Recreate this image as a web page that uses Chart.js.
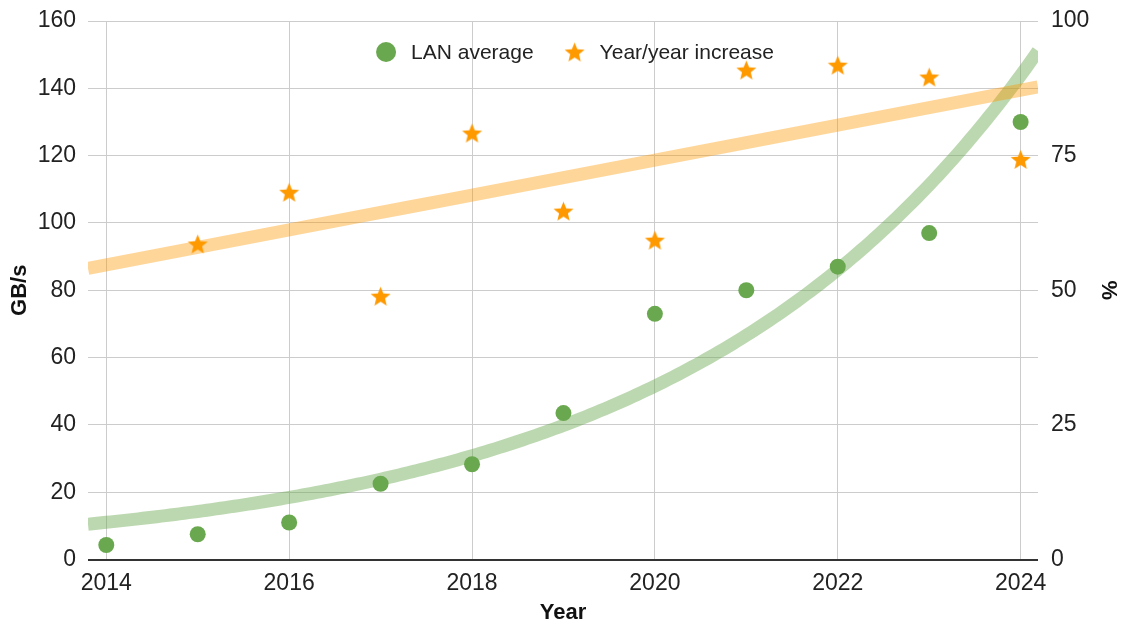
<!DOCTYPE html>
<html>
<head>
<meta charset="utf-8">
<title>LAN average throughput</title>
<script src="https://cdn.jsdelivr.net/npm/chart.js@4/dist/chart.umd.min.js"></script>
<style>
  html, body { margin: 0; padding: 0; background: #ffffff; }
  #wrap { width: 1124px; height: 624px; position: relative; }
</style>
</head>
<body>
<div id="wrap"><canvas id="chart"></canvas></div>
<script>
// ---- data ----
const years = [2014, 2015, 2016, 2017, 2018, 2019, 2020, 2021, 2022, 2023, 2024];
const lanAverage = [4.3, 7.5, 11, 22.5, 28.3, 43.5, 73, 80, 87, 97, 130];          // GB/s
const yearIncrease = [null, 58.6, 68.2, 48.9, 79.2, 64.7, 59.3, 90.9, 91.8, 89.6, 74.3]; // %
const xTickYears = [2014, 2016, 2018, 2020, 2022, 2024];
const leftTicks = [0, 20, 40, 60, 80, 100, 120, 140, 160];
const rightTicks = [0, 25, 50, 75, 100];
const lanLabel = 'LAN average';
const increaseLabel = 'Year/year increase';
const xTitle = 'Year';
const leftTitle = 'GB/s';
const rightTitle = '%';

// ---- style ----
const FONT = "'Liberation Sans', Arial, Helvetica, sans-serif";
const GREEN = '#6aa84f';
const ORANGE = '#ff9900';
const GREEN_TREND = 'rgba(106,168,79,0.45)';
const ORANGE_TREND = 'rgba(255,153,0,0.40)';
const X_MIN = 2013.8, X_MAX = 2024.19;

// ---- trendlines fitted from the series ----
function toPoints(xs, ys) {
  return xs.map((x, i) => ({ x: x, y: ys[i] })).filter(p => p.y !== null);
}
// ordinary least squares line
function linearFit(pts) {
  const n = pts.length;
  const mx = pts.reduce((s, p) => s + p.x, 0) / n;
  const my = pts.reduce((s, p) => s + p.y, 0) / n;
  let sxy = 0, sxx = 0;
  pts.forEach(p => { sxy += (p.x - mx) * (p.y - my); sxx += (p.x - mx) * (p.x - mx); });
  const b = sxy / sxx;
  return x => my + b * (x - mx);
}
// exponential y = a*e^(b x), log-linear regression weighted by y
function expFit(pts) {
  let sw = 0, sx = 0, sl = 0;
  pts.forEach(p => { sw += p.y; sx += p.y * p.x; sl += p.y * Math.log(p.y); });
  const mx = sx / sw, ml = sl / sw;
  let sxy = 0, sxx = 0;
  pts.forEach(p => {
    sxy += p.y * (p.x - mx) * (Math.log(p.y) - ml);
    sxx += p.y * (p.x - mx) * (p.x - mx);
  });
  const b = sxy / sxx;
  const lnA = ml - b * mx;
  return x => Math.exp(lnA + b * x);
}
function sampleCurve(fn, step) {
  const out = [];
  for (let x = X_MIN; x <= X_MAX + 1e-9; x += step) out.push({ x: x, y: fn(x) });
  out.push({ x: X_MAX, y: fn(X_MAX) });
  return out;
}

const lanPoints = toPoints(years, lanAverage);
const incPoints = toPoints(years, yearIncrease);
const lanTrendFn = expFit(lanPoints);
const incTrendFn = linearFit(incPoints);

// ---- five-pointed star marker ----
function makeStar(r, color) {
  const size = Math.ceil(r * 2 + 2);
  const c = document.createElement('canvas');
  c.width = size; c.height = size;
  const g = c.getContext('2d');
  const cx = size / 2, cy = size / 2 + r * 0.09;
  g.fillStyle = color;
  g.beginPath();
  for (let i = 0; i < 10; i++) {
    const rad = i % 2 ? r * 0.44 : r;
    const a = -Math.PI / 2 + i * Math.PI / 5;
    g.lineTo(cx + rad * Math.cos(a), cy + rad * Math.sin(a));
  }
  g.closePath();
  g.fill();
  return c;
}
const starImg = makeStar(10.5, ORANGE);

// ---- legend drawn inside the plot area ----
const insideLegend = {
  id: 'insideLegend',
  afterDraw(chart) {
    const ctx = chart.ctx;
    const area = chart.chartArea;
    ctx.save();
    ctx.font = '21px ' + FONT;
    ctx.textBaseline = 'middle';
    ctx.fillStyle = '#222222';
    const w1 = ctx.measureText(lanLabel).width;
    const w2 = ctx.measureText(increaseLabel).width;
    const sym = 20, gap = 15, itemGap = 31;
    const total = sym + gap + w1 + itemGap + sym + gap + w2;
    let x = (area.left + area.right) / 2 + 12 - total / 2;
    const y = 52;
    ctx.fillStyle = GREEN;
    ctx.beginPath();
    ctx.arc(x + sym / 2, y, 10, 0, Math.PI * 2);
    ctx.fill();
    x += sym + gap;
    ctx.fillStyle = '#222222';
    ctx.fillText(lanLabel, x, y + 1);
    x += w1 + itemGap;
    ctx.drawImage(starImg, x + sym / 2 - starImg.width / 2, y - starImg.height / 2);
    x += sym + gap;
    ctx.fillStyle = '#222222';
    ctx.fillText(increaseLabel, x, y + 1);
    ctx.restore();
  }
};

const tickFont = { family: FONT, size: 23 };
const titleFont = { family: FONT, size: 22, weight: 'bold', lineHeight: 1 };

// fixed axis boxes so the plot area lands where intended
function fixVertical(width) {
  return s => { s.width = width; s.paddingTop = 0; s.paddingBottom = 0; };
}

new Chart(document.getElementById('chart'), {
  type: 'scatter',
  data: {
    datasets: [
      {
        label: lanLabel,
        data: lanPoints,
        yAxisID: 'y',
        pointStyle: 'circle',
        pointRadius: 8,
        pointHoverRadius: 8,
        backgroundColor: GREEN,
        borderColor: GREEN,
        borderWidth: 0,
        order: 0
      },
      {
        label: increaseLabel,
        data: incPoints,
        yAxisID: 'y1',
        pointStyle: starImg,
        pointRadius: 10,
        backgroundColor: ORANGE,
        borderColor: ORANGE,
        order: 0
      },
      {
        label: lanLabel + ' trend',
        type: 'line',
        data: sampleCurve(lanTrendFn, 0.05),
        yAxisID: 'y',
        borderColor: GREEN_TREND,
        borderWidth: 13,
        pointRadius: 0,
        tension: 0,
        fill: false,
        order: 2
      },
      {
        label: increaseLabel + ' trend',
        type: 'line',
        data: sampleCurve(incTrendFn, 0.5),
        yAxisID: 'y1',
        borderColor: ORANGE_TREND,
        borderWidth: 13,
        pointRadius: 0,
        tension: 0,
        fill: false,
        order: 1
      }
    ]
  },
  options: {
    responsive: true,
    maintainAspectRatio: false,
    animation: false,
    devicePixelRatio: 1,
    layout: { autoPadding: false, padding: { top: 21, left: 0, right: 0, bottom: 0 } },
    plugins: {
      legend: { display: false },
      tooltip: { enabled: false }
    },
    scales: {
      x: {
        type: 'linear',
        position: 'bottom',
        min: X_MIN,
        max: X_MAX,
        afterBuildTicks: s => { s.ticks = xTickYears.map(v => ({ value: v })); },
        afterFit: s => { s.height = 64.5; s.paddingLeft = 0; s.paddingRight = 0; },
        border: { display: false },
        grid: { color: '#cccccc', lineWidth: 1, drawTicks: false },
        ticks: {
          autoSkip: false, maxRotation: 0, padding: 10,
          font: tickFont, color: '#222222',
          callback: v => String(v)
        },
        title: { display: true, text: xTitle, font: titleFont, color: '#111111', padding: 0 }
      },
      y: {
        type: 'linear',
        position: 'left',
        min: 0,
        max: 160,
        afterBuildTicks: s => { s.ticks = leftTicks.map(v => ({ value: v })); },
        afterFit: fixVertical(88),
        border: { display: false },
        grid: {
          drawTicks: false,
          color: c => (c.tick && c.tick.value === 0 ? '#333333' : '#cccccc'),
          lineWidth: c => (c.tick && c.tick.value === 0 ? 2 : 1)
        },
        ticks: { padding: 12, font: tickFont, color: '#222222', callback: v => String(v) },
        title: { display: true, text: leftTitle, font: titleFont, color: '#111111', padding: { top: 9, bottom: 0 } }
      },
      y1: {
        type: 'linear',
        position: 'right',
        min: 0,
        max: 100,
        afterBuildTicks: s => { s.ticks = rightTicks.map(v => ({ value: v })); },
        afterFit: fixVertical(86),
        border: { display: false },
        grid: { display: false, drawTicks: false },
        ticks: { padding: 13, font: tickFont, color: '#222222', callback: v => String(v) },
        title: { display: true, text: rightTitle, font: titleFont, color: '#111111', padding: { top: 5, bottom: 0 } }
      }
    }
  },
  plugins: [insideLegend]
});
</script>
</body>
</html>
